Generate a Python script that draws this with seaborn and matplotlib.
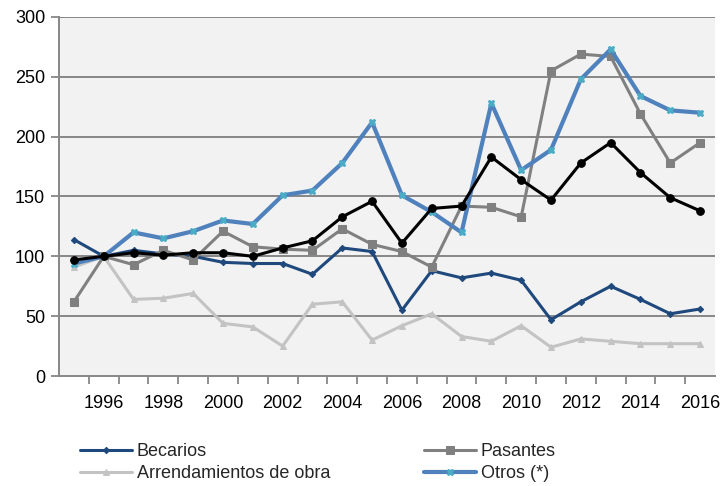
import numpy as np
import pandas as pd
import matplotlib
matplotlib.use("Agg")
import matplotlib.pyplot as plt
import seaborn as sns
from matplotlib import font_manager
from matplotlib.ticker import MultipleLocator, FixedLocator

years = list(range(1995, 2017))
becarios = [114, 100, 105, 102, 100, 95, 94, 94, 85, 107, 104, 55, 88, 82, 86, 80, 47, 62, 75, 64, 52, 56]
pasantes = [62, 100, 93, 105, 97, 121, 108, 106, 105, 123, 110, 104, 91, 142, 141, 133, 255, 269, 267, 219, 178, 195]
arrendamientos = [91, 100, 64, 65, 69, 44, 41, 25, 60, 62, 30, 42, 52, 33, 29, 42, 24, 31, 29, 27, 27, 27]
otros = [94, 100, 120, 115, 121, 130, 127, 151, 155, 178, 212, 151, 137, 120, 228, 172, 189, 248, 273, 234, 222, 220]
total = [97, 100, 103, 101, 103, 103, 100, 107, 113, 133, 146, 111, 140, 142, 183, 164, 147, 178, 195, 170, 149, 138]

labels = ["Becarios", "Pasantes", "Arrendamientos de obra", "Otros (*)"]
tick_years = list(range(1996, 2017, 2))

sns.set_theme(style="white")
names = {f.name for f in font_manager.fontManager.ttflist}
fam = "Liberation Sans Narrow" if "Liberation Sans Narrow" in names else "Liberation Sans"
plt.rcParams["font.family"] = [fam, "DejaVu Sans"]

fig = plt.figure(figsize=(7.21, 4.86), dpi=100)
ax = fig.add_axes([59 / 721, 1 - 376 / 486, 656 / 721, 359 / 486])
ax.set_facecolor("#F2F2F2")

grid_c = "#878787"
for y in range(50, 301, 50):
    ax.axhline(y, color=grid_c, lw=1.4, zorder=0)

series = [
    (becarios, labels[0], "#1F497D", "D", 3.2, "#1F497D", 2.2),
    (pasantes, labels[1], "#808080", "s", 5.5, "#808080", 2.2),
    (arrendamientos, labels[2], "#C3C3C3", "^", 4.2, "#C3C3C3", 2.2),
    (otros, labels[3], "#4F81BD", "X", 4.8, "#4BACC6", 3.0),
    (total, "_nolegend_", "#000000", "o", 5.5, "#000000", 2.2),
]
for vals, lab, col, mk, ms, mcol, lw in series:
    sns.lineplot(x=years, y=vals, ax=ax, color=col, lw=lw, marker=mk, markersize=ms,
                 markerfacecolor=mcol, markeredgecolor=mcol, label=lab, legend=False)

ax.set_xlim(1994.5, 2016.5)
ax.set_ylim(0, 300)
ax.yaxis.set_major_locator(MultipleLocator(50))
ax.xaxis.set_major_locator(FixedLocator(tick_years))
ax.xaxis.set_minor_locator(FixedLocator([y + 0.5 for y in range(1995, 2016)]))
ax.set_xticklabels([str(y) for y in tick_years])
ax.tick_params(axis="x", which="major", length=0, labelsize=13, pad=14, colors="black")
ax.tick_params(axis="x", which="minor", length=6, width=1.3, color=grid_c, direction="out", bottom=True)
ax.tick_params(axis="y", which="major", length=6, width=1.3, color=grid_c, labelsize=13, pad=4, left=True)
for lbl in ax.get_xticklabels() + ax.get_yticklabels():
    lbl.set_color("black")
ax.set_xlabel("")
ax.set_ylabel("")
for s in ["top", "right"]:
    ax.spines[s].set_visible(False)
for s in ["left", "bottom"]:
    ax.spines[s].set_color(grid_c)
    ax.spines[s].set_linewidth(1.4)

hmap = {h.get_label(): h for h in ax.get_lines()}
common = dict(frameon=False, fontsize=13, handlelength=2.9, handletextpad=0.25,
              borderpad=0, borderaxespad=0, labelspacing=0.3, loc="upper left")
leg1 = fig.legend([hmap[labels[0]], hmap[labels[2]]], [labels[0], labels[2]],
                  bbox_to_anchor=(80 / 721, 1 - 443 / 486), **common)
leg2 = fig.legend([hmap[labels[1]], hmap[labels[3]]], [labels[1], labels[3]],
                  bbox_to_anchor=(424 / 721, 1 - 443 / 486), **common)

fig.savefig("out.png", dpi=100)
